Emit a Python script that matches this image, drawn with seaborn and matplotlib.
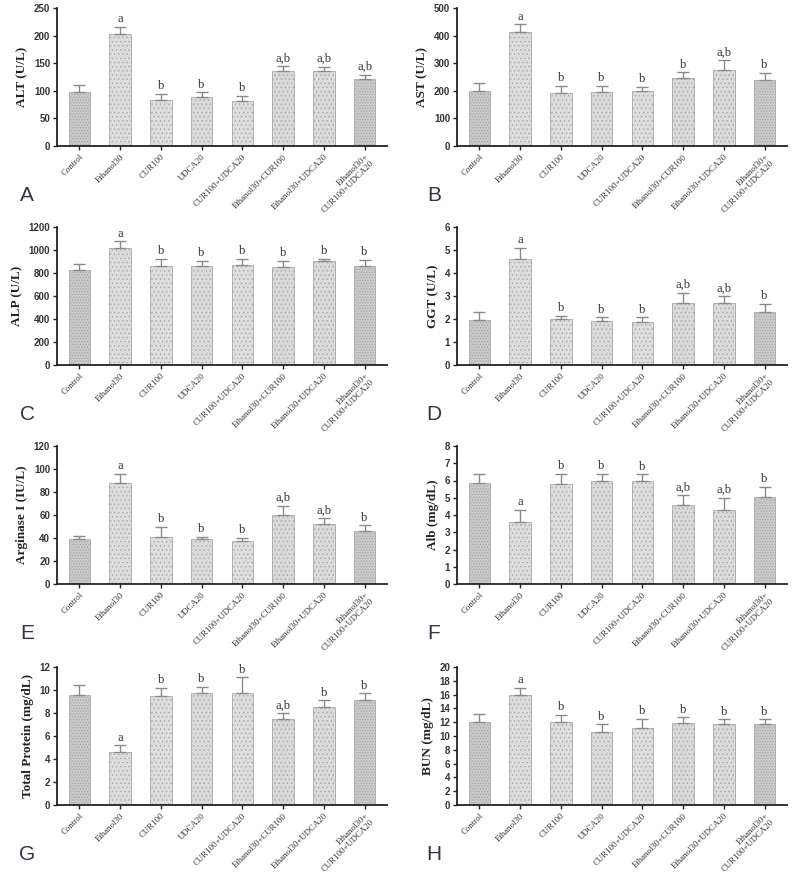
import matplotlib
matplotlib.use("Agg")
import matplotlib.pyplot as plt
import seaborn as sns
import numpy as np
import pandas as pd

groups = ["Control", "Ethanol30", "CUR100", "UDCA20", "CUR100+UDCA20",
          "Ethanol30+CUR100", "Ethanol30+UDCA20", "Ethanol30+\nCUR100+UDCA20"]

alt_mean = [98, 203, 84, 88, 81, 135, 135, 121]
alt_err = [12, 13, 10, 9, 10, 10, 9, 8]
alt_sig = ["", "a", "b", "b", "b", "a,b", "a,b", "a,b"]

ast_mean = [200, 413, 192, 197, 198, 247, 275, 240]
ast_err = [28, 28, 25, 22, 17, 20, 35, 25]
ast_sig = ["", "a", "b", "b", "b", "b", "a,b", "b"]

alp_mean = [825, 1020, 860, 860, 870, 850, 905, 865]
alp_err = [55, 55, 65, 45, 55, 55, 20, 50]
alp_sig = ["", "a", "b", "b", "b", "b", "b", "b"]

ggt_mean = [1.97, 4.62, 2.0, 1.9, 1.85, 2.7, 2.7, 2.3]
ggt_err = [0.33, 0.48, 0.15, 0.17, 0.22, 0.45, 0.3, 0.35]
ggt_sig = ["", "a", "b", "b", "b", "a,b", "a,b", "b"]

arg_mean = [39, 88, 41, 39, 37, 60, 52, 46]
arg_err = [3, 8, 9, 2, 3, 8, 5, 5]
arg_sig = ["", "a", "b", "b", "b", "a,b", "a,b", "b"]

alb_mean = [5.85, 3.6, 5.8, 5.95, 5.95, 4.6, 4.3, 5.05]
alb_err = [0.55, 0.7, 0.6, 0.45, 0.4, 0.55, 0.7, 0.6]
alb_sig = ["", "a", "b", "b", "b", "a,b", "a,b", "b"]

tp_mean = [9.6, 4.6, 9.5, 9.7, 9.7, 7.45, 8.5, 9.1]
tp_err = [0.8, 0.6, 0.7, 0.6, 1.4, 0.55, 0.6, 0.6]
tp_sig = ["", "a", "b", "b", "b", "a,b", "b", "b"]

bun_mean = [12.1, 15.9, 12.1, 10.6, 11.2, 11.9, 11.7, 11.7]
bun_err = [1.1, 1.1, 1.0, 1.1, 1.3, 0.8, 0.7, 0.7]
bun_sig = ["", "a", "b", "b", "b", "b", "b", "b"]

panels = [
    ("A", "ALT (U/L)", alt_mean, alt_err, alt_sig, 250, 50),
    ("B", "AST (U/L)", ast_mean, ast_err, ast_sig, 500, 100),
    ("C", "ALP (U/L)", alp_mean, alp_err, alp_sig, 1200, 200),
    ("D", "GGT (U/L)", ggt_mean, ggt_err, ggt_sig, 6, 1),
    ("E", "Arginase I (IU/L)", arg_mean, arg_err, arg_sig, 120, 20),
    ("F", "Alb (mg/dL)", alb_mean, alb_err, alb_sig, 8, 1),
    ("G", "Total Protein (mg/dL)", tp_mean, tp_err, tp_sig, 12, 2),
    ("H", "BUN (mg/dL)", bun_mean, bun_err, bun_sig, 20, 2),
]

sns.set_style("white")
plt.rcParams["font.family"] = ["Liberation Sans", "DejaVu Sans"]
plt.rcParams["hatch.linewidth"] = 0.5

fig = plt.figure(figsize=(7.92, 8.76), dpi=100)

W, H = 792, 876
col_left = [57, 457]
ax_w = 330
row_top = [8, 227, 446, 667]
ax_h = 138

bar_face = ["#c9c9c9", "#dcdcdc", "#dedede", "#dadada", "#dedede", "#d8d8d8", "#dadada", "#c9c9c9"]
bar_hatch = ["......", "....", "....", "....", "....", "....", "....", "......"]

for i, (letter, ylabel, mean, err, sig, ymax, step) in enumerate(panels):
    r, c = divmod(i, 2)
    left = col_left[c] / W
    bottom = 1 - (row_top[r] + ax_h) / H
    ax = fig.add_axes([left, bottom, ax_w / W, ax_h / H])
    df = pd.DataFrame({"group": groups, "value": mean})
    sns.barplot(data=df, x="group", y="value", ax=ax, color="#d9d9d9",
                width=0.53, errorbar=None, saturation=1)
    xs = []
    for j, p in enumerate(ax.patches):
        p.set_facecolor(bar_face[j])
        p.set_edgecolor("#a8a8a8")
        p.set_hatch(bar_hatch[j])
        p.set_linewidth(0.6)
        xs.append(p.get_x() + p.get_width() / 2)
    xs = np.array(xs)
    ax.errorbar(xs, mean, yerr=[np.zeros(len(err)), err], fmt="none",
                ecolor="#8a8a8a", elinewidth=1.0, capsize=4, capthick=1.0)
    for x, m, e, s in zip(xs, mean, err, sig):
        if s:
            ax.text(x, m + e + ymax * 0.012, s, ha="center", va="bottom",
                    fontsize=9, family="Liberation Serif", color="#333333")
    ax.set_xlim(-0.55, 7.55)
    ax.set_ylim(0, ymax)
    ax.set_yticks(np.arange(0, ymax + step / 2, step))
    ax.set_xlabel("")
    ax.set_ylabel(ylabel, fontsize=9.5, fontweight="bold",
                  family="Liberation Serif", color="#222222", labelpad=4)
    ax.set_xticks(range(len(groups)))
    ax.set_xticklabels(groups, rotation=45, ha="right", rotation_mode="anchor",
                       fontsize=6.3, family="Liberation Serif", color="#333333",
                       linespacing=1.0)
    for lab in ax.get_yticklabels():
        lab.set_fontsize(7)
        lab.set_fontweight("bold")
        lab.set_color("#333333")
    sns.despine(ax=ax)
    for sp in ["left", "bottom"]:
        ax.spines[sp].set_linewidth(1.3)
        ax.spines[sp].set_color("#222222")
    ax.tick_params(axis="both", direction="out", length=3, width=1, color="#222222", pad=2,
                   left=True, bottom=True)
    ax.text(-0.09 if c == 0 else -0.07, -0.36, letter, transform=ax.transAxes,
            fontsize=15, color="#333344", ha="center", va="center")

fig.savefig("out.png", dpi=100, facecolor="white")
